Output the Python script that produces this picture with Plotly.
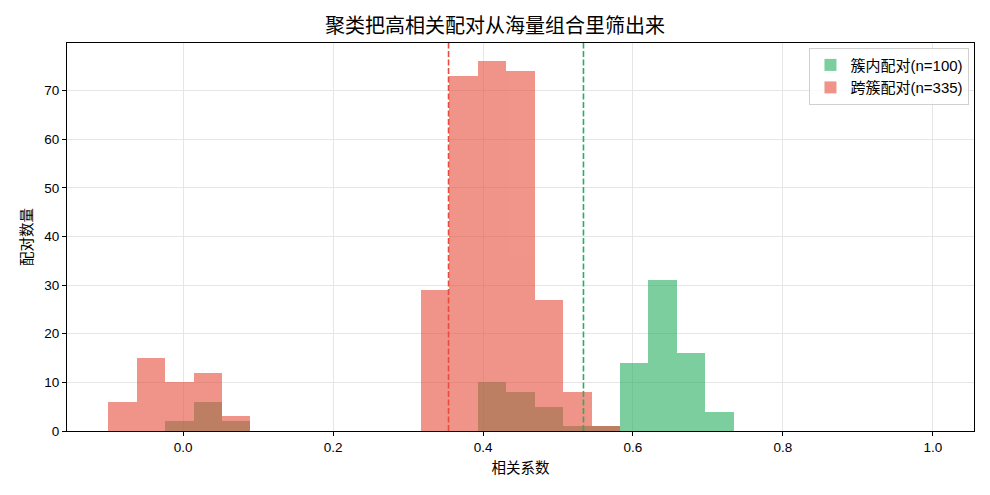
import numpy as np
import plotly.graph_objects as go

# shared histogram bin edges (29 bins from -0.1 to 1.0)
bin_edges = np.linspace(-0.1, 1.0, 30)

within_counts = [0, 0, 2, 6, 2, 0, 0, 0, 0, 0, 0, 0, 0, 10, 8, 5, 1, 1, 14, 31, 16, 4, 0, 0, 0, 0, 0, 0, 0]
cross_counts = [6, 15, 10, 12, 3, 0, 0, 0, 0, 0, 0, 29, 73, 76, 74, 27, 8, 1, 0, 0, 0, 0, 0, 0, 0, 0, 0, 0, 0]

within_mean = 0.534
cross_mean = 0.354

within_name = "簇内配对(n=100)"
cross_name = "跨簇配对(n=335)"
title_text = "聚类把高相关配对从海量组合里筛出来"
x_label = "相关系数"
y_label = "配对数量"

GREEN = "#27ae60"
RED = "#e74c3c"
FONT = "Liberation Sans, Noto Sans CJK SC, DejaVu Sans, sans-serif"

centers = (bin_edges[:-1] + bin_edges[1:]) / 2
widths = np.diff(bin_edges)

fig = go.Figure()
fig.add_trace(go.Bar(x=centers, y=within_counts, width=widths, name=within_name,
                     marker=dict(color=GREEN, line=dict(width=0)), opacity=0.6))
fig.add_trace(go.Bar(x=centers, y=cross_counts, width=widths, name=cross_name,
                     marker=dict(color=RED, line=dict(width=0)), opacity=0.6))

fig.add_shape(type="line", xref="x", yref="paper", x0=cross_mean, x1=cross_mean, y0=0, y1=1,
              line=dict(color=RED, width=1.6, dash="6px,2.5px"))
fig.add_shape(type="line", xref="x", yref="paper", x0=within_mean, x1=within_mean, y0=0, y1=1,
              line=dict(color=GREEN, width=1.6, dash="6px,2.5px"))

xmin, xmax = -0.1, 1.0
xpad = 0.05 * (xmax - xmin)
ymax = max(max(within_counts), max(cross_counts)) * 1.05

fig.update_layout(
    width=990, height=495,
    margin=dict(l=67, r=16, t=43, b=64),
    barmode="overlay",
    bargap=0,
    plot_bgcolor="white",
    paper_bgcolor="white",
    font=dict(family=FONT, size=13.5, color="black"),
    title=dict(text=title_text, x=0.5, xanchor="center", y=0.948, yanchor="middle",
               font=dict(family=FONT, size=20, color="black")),
    legend=dict(x=0.995, y=0.988, xanchor="right", yanchor="top",
                bgcolor="rgba(255,255,255,0.8)", bordercolor="#d0d0d0", borderwidth=1,
                font=dict(family=FONT, size=15), tracegroupgap=2),
    xaxis=dict(range=[xmin - xpad, xmax + xpad], tick0=0, dtick=0.2, tickformat=".1f",
               showgrid=True, gridcolor="#e6e6e6", gridwidth=1, zeroline=False,
               showline=True, linecolor="black", linewidth=1, mirror=True,
               ticks="outside", ticklen=4, tickcolor="black",
               title=dict(text=x_label, standoff=8, font=dict(size=14.5))),
    yaxis=dict(range=[0, ymax], dtick=10,
               showgrid=True, gridcolor="#e6e6e6", gridwidth=1, zeroline=False,
               showline=True, linecolor="black", linewidth=1, mirror=True,
               ticks="outside", ticklen=4, tickcolor="black",
               title=dict(text=y_label, standoff=8, font=dict(size=14.5))),
)

fig.write_html("out.html")
